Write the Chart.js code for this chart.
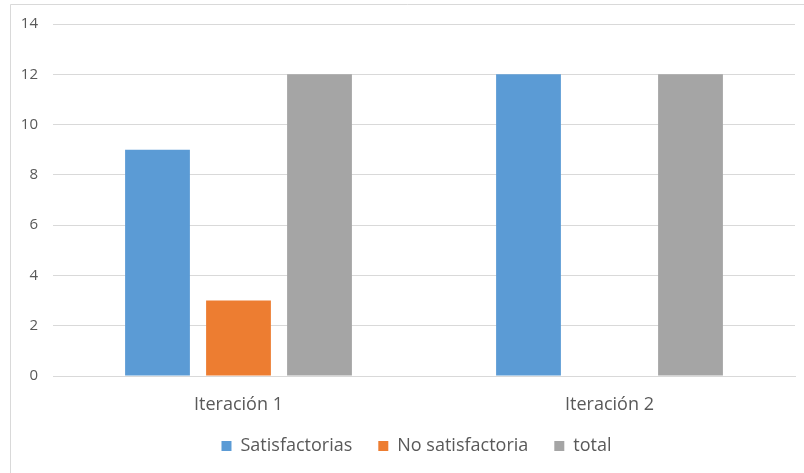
<!DOCTYPE html>
<html>
<head>
<meta charset="utf-8">
<script src="https://cdn.jsdelivr.net/npm/chart.js@4/dist/chart.umd.min.js"></script>
<style>
  html, body { margin: 0; padding: 0; background: #fff; }
  #wrap { position: relative; width: 804px; height: 473px; }
</style>
</head>
<body>
<div id="wrap"><canvas id="c" width="804" height="473"></canvas></div>
<script>
const categories = ['Iteración 1', 'Iteración 2'];
const satisfactorias = [9, 12];
const noSatisfactoria = [3, 0];
const total = [12, 12];
const yTicks = [0, 2, 4, 6, 8, 10, 12, 14];

const LEGEND_PAD = 26;
const framePlugin = {
  id: 'frame',
  afterLayout(chart) {
    const lg = chart.legend;
    if (lg) {
      lg.left += 10; lg.right += 10;
      lg.top = 437 - LEGEND_PAD;
      lg.height = 60;
      lg.bottom = lg.top + lg.height;
    }
  },
  beforeDraw(chart) {
    const ctx = chart.ctx;
    ctx.save();
    ctx.fillStyle = '#ffffff';
    ctx.fillRect(0, 0, chart.width, chart.height);
    ctx.strokeStyle = '#d9d9d9';
    ctx.lineWidth = 1;
    ctx.beginPath();
    ctx.moveTo(10.5, chart.height);
    ctx.lineTo(10.5, 4.5);
    ctx.lineTo(chart.width, 4.5);
    ctx.stroke();
    ctx.restore();
  }
};

const bigFont = { family: '"Open Sans", sans-serif', size: 18 };
const tickFont = { family: '"Open Sans", sans-serif', size: 15 };

new Chart(document.getElementById('c'), {
  type: 'bar',
  data: {
    labels: categories,
    datasets: [
      { label: 'Satisfactorias', data: satisfactorias, backgroundColor: '#5b9bd5' },
      { label: 'No satisfactoria', data: noSatisfactoria, backgroundColor: '#ed7d31' },
      { label: 'total', data: total, backgroundColor: '#a5a5a5' }
    ]
  },
  options: {
    responsive: false,
    animation: false,
    devicePixelRatio: 1,
    layout: { padding: { left: 18, right: 9, top: 24, bottom: 17 } },
    datasets: { bar: { categoryPercentage: 0.655, barPercentage: 0.80 } },
    scales: {
      x: {
        grid: { display: false, drawTicks: false },
        border: { display: true, color: '#d9d9d9' },
        afterFit(scale) { scale.height = 50; },
        ticks: { color: '#595959', font: bigFont, padding: 18 }
      },
      y: {
        min: 0, max: 14,
        afterBuildTicks(scale) { scale.ticks = yTicks.map(v => ({ value: v })); },
        afterFit(scale) { scale.width = 35; },
        grid: { color: '#d9d9d9', drawTicks: false },
        border: { display: false },
        ticks: { color: '#595959', font: tickFont, padding: 15 }
      }
    },
    plugins: {
      legend: {
        position: 'bottom',
        maxHeight: 30,
        labels: { color: '#595959', font: bigFont, boxWidth: 10, boxHeight: 10, padding: LEGEND_PAD }
      },
      tooltip: { enabled: false }
    }
  },
  plugins: [framePlugin]
});
</script>
</body>
</html>
